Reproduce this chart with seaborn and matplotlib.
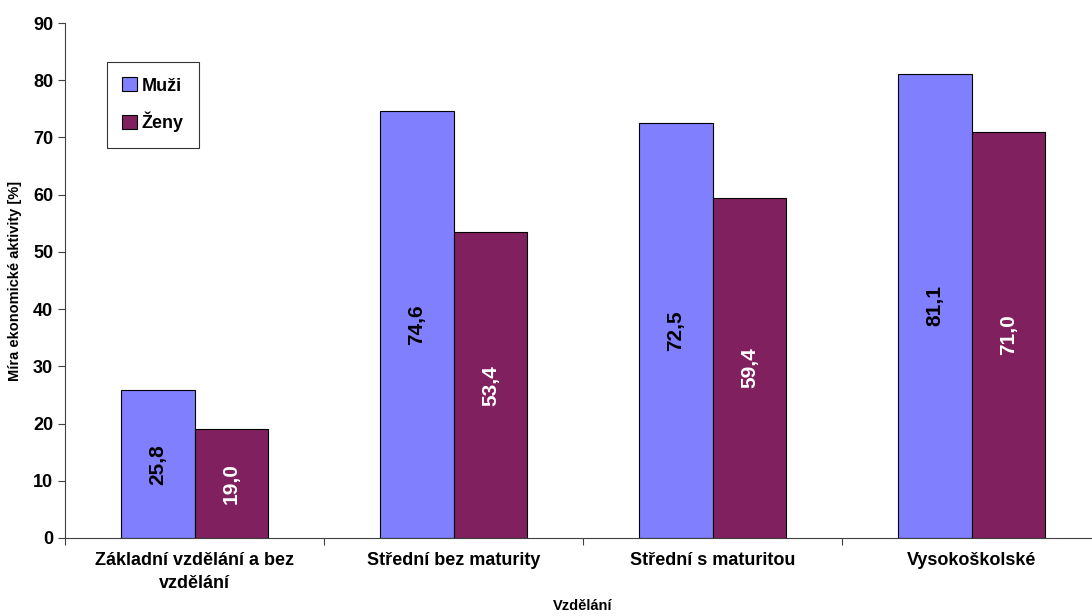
import pandas as pd
import seaborn as sns
import matplotlib.pyplot as plt
from matplotlib.ticker import FixedLocator

# data
categories = ['Základní vzdělání a bez\nvzdělání', 'Střední bez maturity',
              'Střední s maturitou', 'Vysokoškolské']
muzi = [25.8, 74.6, 72.5, 81.1]
zeny = [19.0, 53.4, 59.4, 71.0]
series = ['Muži', 'Ženy']

df = pd.DataFrame({
    'kategorie': categories * 2,
    'pohlavi': [series[0]] * 4 + [series[1]] * 4,
    'hodnota': muzi + zeny,
})

sns.set_style('white')
plt.rcParams['font.family'] = ['Liberation Sans', 'DejaVu Sans']
plt.rcParams['text.color'] = 'black'
plt.rcParams['axes.labelcolor'] = 'black'
plt.rcParams['xtick.color'] = 'black'
plt.rcParams['ytick.color'] = 'black'

fig = plt.figure(figsize=(10.92, 6.16), dpi=100)
ax = fig.add_axes([65 / 1092, 78 / 616, 1036 / 1092, 515 / 616])

colors = ['#8080FF', '#80205E']
sns.barplot(data=df, x='kategorie', y='hodnota', hue='pohlavi', order=categories,
            hue_order=series, palette=colors, width=0.571, gap=0,
            edgecolor='black', linewidth=0.8, saturation=1, ax=ax)

# value labels inside bars
text_colors = ['black', 'white']
for cont, tc in zip(ax.containers, text_colors):
    labels = [f'{b.get_height():.1f}'.replace('.', ',') for b in cont]
    ax.bar_label(cont, labels=labels, label_type='center', rotation=90,
                 color=tc, fontsize=15, fontweight='bold')

ax.set_ylim(0, 90)
ax.set_yticks(range(0, 91, 10))
ax.set_xlim(-0.5, 3.5)
ax.tick_params(axis='y', labelsize=13, length=5, width=0.8, direction='out', left=True,
               colors='black', color='#404040')
for t in ax.get_yticklabels():
    t.set_fontweight('bold')

# ticks between categories
ax.xaxis.set_minor_locator(FixedLocator([-0.5, 0.5, 1.5, 2.5, 3.5]))
ax.tick_params(axis='x', which='major', length=0, labelsize=13, pad=10, labelcolor='black')
ax.tick_params(axis='x', which='minor', length=5, width=0.8, direction='out', bottom=True,
               color='#404040')
for t in ax.get_xticklabels():
    t.set_fontweight('bold')
    t.set_linespacing(1.45)

ax.set_xlabel('Vzdělání', fontsize=10.5, fontweight='bold', labelpad=5)
ax.set_ylabel('Míra ekonomické aktivity [%]', fontsize=10.5, fontweight='bold', labelpad=8)

for s in ['top', 'right']:
    ax.spines[s].set_visible(False)
for s in ['left', 'bottom']:
    ax.spines[s].set_color('#404040')
    ax.spines[s].set_linewidth(0.8)

leg = ax.legend(loc='upper left', bbox_to_anchor=(0.0405, 0.924), borderaxespad=0,
                frameon=True, fancybox=False, edgecolor='black', labelspacing=0.95,
                handlelength=0.8, handleheight=0.8, handletextpad=0.25,
                borderpad=0.85, prop={'size': 13, 'weight': 'bold'})
leg.get_frame().set_linewidth(0.8)
for h in leg.legend_handles:
    h.set_edgecolor('black')
    h.set_linewidth(0.8)

fig.savefig('out.png', dpi=100)
